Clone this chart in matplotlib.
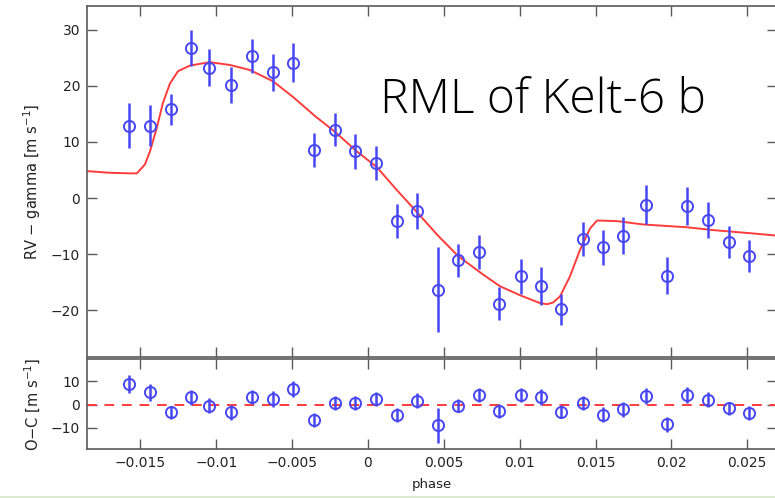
import matplotlib
matplotlib.use("Agg")
import matplotlib.pyplot as plt
from matplotlib.lines import Line2D

# Radial-velocity measurements during the transit of KELT-6 b
phase = [-0.01574, -0.01439, -0.01300, -0.01167, -0.01046, -0.00901, -0.00763,
         -0.00624, -0.00492, -0.00354, -0.00218, -0.00084, 0.00051, 0.00189,
         0.00325, 0.00459, 0.00596, 0.00730, 0.00866, 0.01007, 0.01140,
         0.01272, 0.01420, 0.01551, 0.01683, 0.01830, 0.01969, 0.02105,
         0.02244, 0.02382, 0.02514]
rv = [12.9, 12.9, 15.8, 26.8, 23.2, 20.2, 25.3, 22.4, 24.1, 8.5, 12.2, 8.3,
      6.3, -4.1, -2.3, -16.3, -11.1, -9.6, -18.8, -13.9, -15.7, -19.8, -7.3,
      -8.8, -6.7, -1.2, -13.8, -1.4, -3.9, -7.8, -10.3]
rv_err = [4.0, 3.6, 2.8, 3.2, 3.3, 3.2, 3.0, 3.3, 3.5, 3.0, 3.0, 3.1, 3.0,
          3.0, 3.2, 7.6, 2.9, 3.0, 3.0, 3.1, 3.4, 2.8, 3.1, 3.2, 3.3, 3.5,
          3.3, 3.4, 3.2, 2.8, 2.9]
residual = [8.8, 5.2, -3.3, 3.1, -0.4, -3.3, 3.1, 2.4, 6.7, -6.4, 0.7, 0.6,
            2.4, -4.4, 1.7, -8.9, -0.4, 4.1, -2.8, 4.1, 3.4, -3.0, 0.7, -4.4,
            -2.1, 3.8, -8.5, 4.1, 2.0, -1.6, -3.5]

# Rossiter-McLaughlin model curve
model_phase = [-0.01852, -0.01701, -0.01569, -0.01523, -0.01470, -0.01437,
               -0.01391, -0.01351, -0.01305, -0.01252, -0.01173, -0.01042,
               -0.00910, -0.00778, -0.00626, -0.00494, -0.00349, -0.00218,
               -0.00073, 0.00059, 0.00191, 0.00323, 0.00455, 0.00593,
               0.00758, 0.00870, 0.01002, 0.01134, 0.01180, 0.01220,
               0.01266, 0.01332, 0.01398, 0.01464, 0.01510, 0.01642,
               0.01813, 0.02103, 0.02274, 0.02538, 0.02700]
model_rv = [4.8, 4.5, 4.4, 4.4, 6.0, 8.3, 12.6, 17.0, 20.4, 22.6, 23.6, 24.2,
            23.7, 22.8, 20.8, 18.0, 14.6, 11.8, 8.3, 5.5, 1.4, -2.5, -6.5,
            -10.3, -13.6, -15.7, -17.3, -18.7, -18.9, -18.6, -17.5, -13.9,
            -9.2, -5.4, -4.0, -4.1, -4.7, -5.2, -5.7, -6.3, -6.7]

x_ticks = [-0.015, -0.01, -0.005, 0, 0.005, 0.01, 0.015, 0.02, 0.025]
x_ticklabels = ["\u22120.015", "\u22120.01", "\u22120.005", "0", "0.005",
                "0.01", "0.015", "0.02", "0.025"]
rv_ticks = [-20, -10, 0, 10, 20, 30]
oc_ticks = [-10, 0, 10]

W, H = 775, 498
fig = plt.figure(figsize=(W / 100, H / 100), dpi=100)
plt.rcParams["font.family"] = ["DejaVu Sans"]

blue = "#4646f2"
red = "#ff3c3c"
spine_col = "#5a5a5a"


def px_axes(x0, y0, x1, y1):
    return fig.add_axes([x0 / W, 1 - y1 / H, (x1 - x0) / W, (y1 - y0) / H])


ax = px_axes(87, 6, 777, 357)
ax2 = px_axes(87, 359, 777, 449)

xlim = (-0.01852, 0.02696)

for a in (ax, ax2):
    a.set_xlim(*xlim)
    a.set_xticks(x_ticks)
    a.tick_params(direction="in", length=7, width=1, color=spine_col,
                  top=True, right=True, labelsize=10, labelcolor="#222222",
                  pad=5)
    for s in a.spines.values():
        s.set_color(spine_col)
        s.set_linewidth(1.2)

# Upper panel: data with model
ax.plot(model_phase, model_rv, color=red, lw=1.4, zorder=2)
ax.errorbar(phase, rv, yerr=rv_err, fmt="o", ms=8, mfc="none", mec=blue,
            mew=1.4, ecolor=blue, elinewidth=1.8, capsize=0, zorder=3)
ax.set_ylim(-28.3, 34.2)
ax.set_yticks(rv_ticks)
ax.set_yticklabels(["\u221220", "\u221210", "0", "10", "20", "30"])
ax.set_xticklabels([])
ax.set_ylabel("RV \u2212 gamma [m s$^{\\mathregular{-1}}$]", fontsize=10.5,
              color="#222222")
ax.yaxis.set_label_coords(-44 / 690, 0.5)

# Lower panel: residuals
ax2.axhline(0, color=red, lw=1.4, ls=(0, (5, 4)), zorder=2)
ax2.errorbar(phase, residual, yerr=rv_err, fmt="o", ms=8, mfc="none",
             mec=blue, mew=1.4, ecolor=blue, elinewidth=1.8, capsize=0,
             zorder=3)
ax2.set_ylim(-19, 19.5)
ax2.set_yticks(oc_ticks)
ax2.set_yticklabels(["\u221210", "0", "10"])
ax2.set_xticklabels(x_ticklabels)
ax2.set_ylabel("O\u2212C [m s$^{\\mathregular{-1}}$]", fontsize=10.5,
               color="#222222")
ax2.yaxis.set_label_coords(-44 / 690, 0.5)
ax2.set_xlabel("phase", fontsize=9.5, color="#222222", labelpad=6)

# Title annotation
fig.text(380 / W, 1 - 113 / H, "RML of Kelt-6 b", fontsize=34.5,
         family=["Open Sans", "DejaVu Sans"], weight="light",
         color="black", va="baseline", ha="left")

# Thin border line along the bottom edge
fig.add_artist(Line2D([0, 1], [0.8 / H, 0.8 / H], transform=fig.transFigure,
                      color="#d6e6c8", lw=1.2))

fig.savefig("out.png", dpi=100)
